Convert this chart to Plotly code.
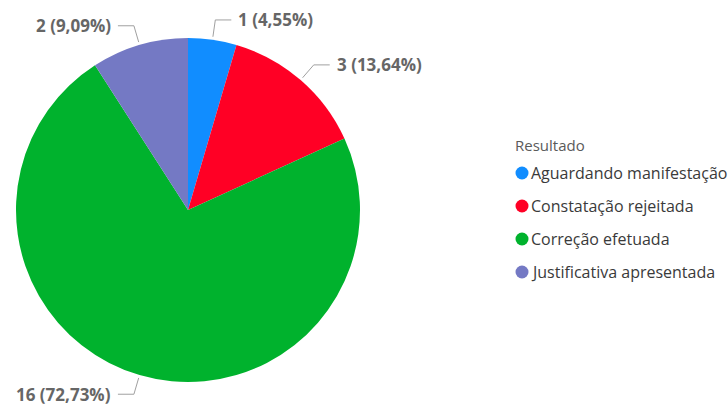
import math
import plotly.graph_objects as go

categories = ["Aguardando manifestação", "Constatação rejeitada", "Correção efetuada", "Justificativa apresentada"]
values = [1, 3, 16, 2]
colors = ["#118DFF", "#FF0025", "#00B22D", "#7479C4"]
legend_title = "Resultado"

W, H = 728, 405
cx, cy, R = 188, 210, 172
FONT = "Open Sans"

fig = go.Figure()
fig.add_trace(go.Pie(
    labels=categories, values=values, sort=False, direction="clockwise", rotation=0,
    marker=dict(colors=colors, line=dict(width=0)),
    textinfo="none", hoverinfo="label+value+percent", showlegend=False,
    domain=dict(x=[(cx - R) / W, (cx + R) / W], y=[(H - cy - R) / H, (H - cy + R) / H]),
))

total = sum(values)
shapes = []
annotations = []
cum = 0
for v in values:
    theta = (cum + v / 2) / total * 2 * math.pi
    cum += v
    s, c = math.sin(theta), -math.cos(theta)
    x0, y0 = cx + (R + 3) * s, cy + (R + 3) * c
    x1, y1 = cx + 192 * s, cy + 192 * c
    side = 1 if s >= 0 else -1
    x2 = x1 + side * 16
    shapes.append(dict(type="path", xref="x", yref="y",
                       path=f"M{x0},{y0} L{x1},{y1} L{x2},{y1}",
                       line=dict(color="#A0A0A0", width=1)))
    pct = f"{v / total * 100:.2f}".replace(".", ",")
    annotations.append(dict(x=x2 + side * 5, y=y1, xref="x", yref="y", showarrow=False,
                            text=f"{v} ({pct}%)", xanchor="left" if side > 0 else "right",
                            yanchor="middle",
                            font=dict(family=FONT, size=17, color="#666666", weight=700)))

# legend
lx, ly0, step = 522, 173, 33
annotations.append(dict(x=lx - 9, y=145, xref="x", yref="y", showarrow=False, text=legend_title,
                        xanchor="left", yanchor="middle",
                        font=dict(family=FONT, size=15, color="#5A5A5A")))
for i, (cat, col) in enumerate(zip(categories, colors)):
    y = ly0 + i * step
    shapes.append(dict(type="circle", xref="x", yref="y", x0=lx - 6.5, x1=lx + 6.5,
                       y0=y - 6.5, y1=y + 6.5, fillcolor=col, line=dict(width=0)))
    annotations.append(dict(x=lx + 7, y=y, xref="x", yref="y", showarrow=False, text=cat,
                            xanchor="left", yanchor="middle",
                            font=dict(family=FONT, size=16, color="#3A3A3A")))

fig.update_layout(
    width=W, height=H, margin=dict(l=0, r=0, t=0, b=0),
    paper_bgcolor="white", plot_bgcolor="rgba(0,0,0,0)",
    xaxis=dict(range=[0, W], visible=False, fixedrange=True),
    yaxis=dict(range=[H, 0], visible=False, fixedrange=True),
    shapes=shapes, annotations=annotations, showlegend=False,
)
fig.write_html("out.html", config={"displayModeBar": False},
               post_script="document.body.style.margin='0';document.body.style.overflow='hidden';")
